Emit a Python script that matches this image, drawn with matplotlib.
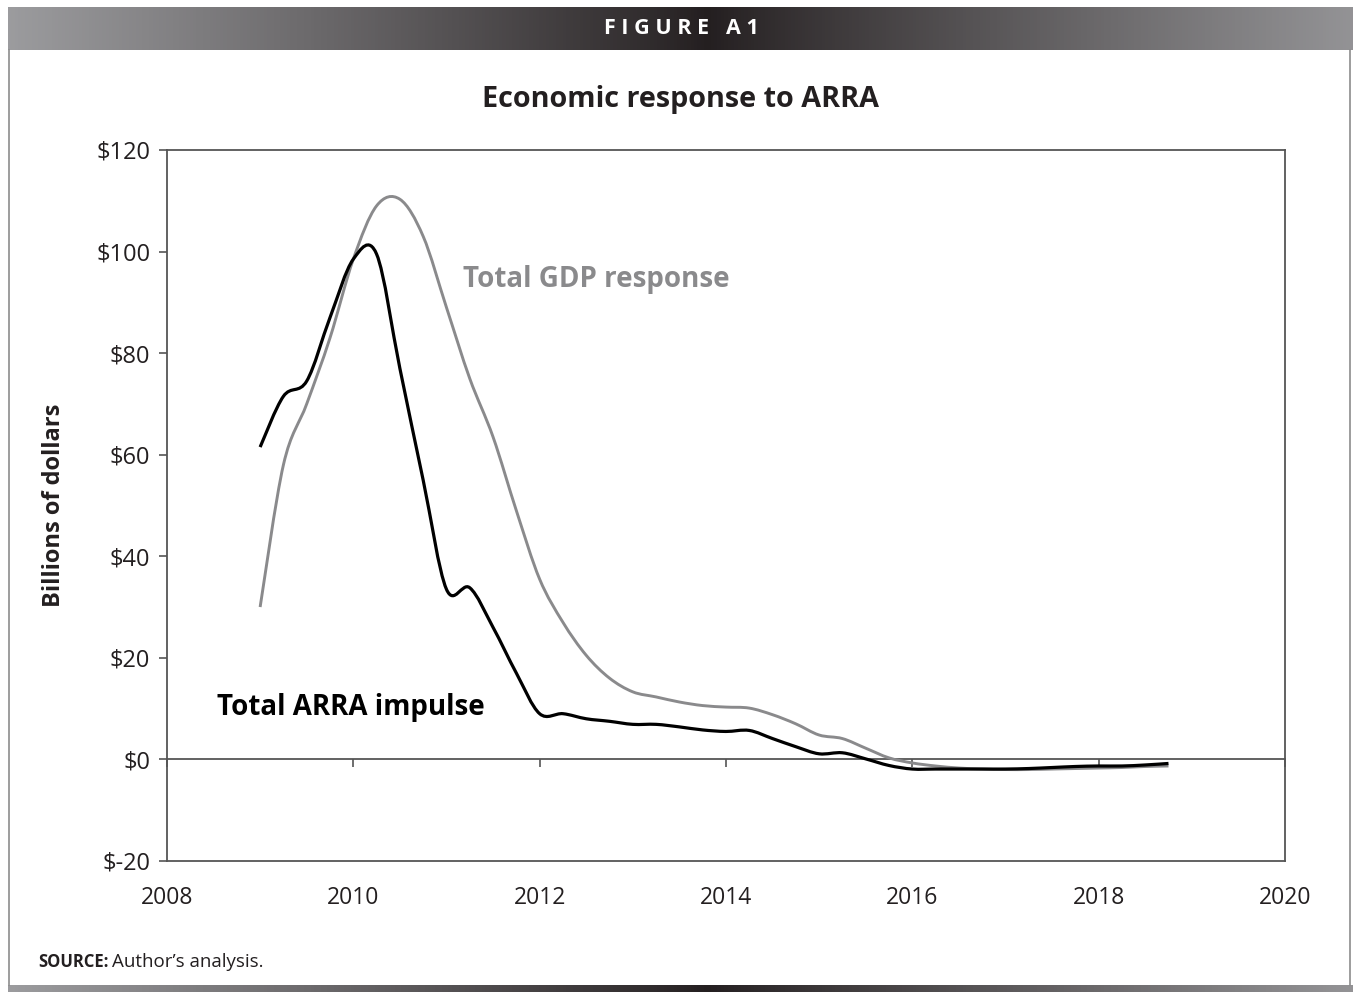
import numpy as np
import matplotlib.pyplot as plt
from matplotlib.path import Path
from matplotlib.patches import PathPatch
from matplotlib.ticker import FuncFormatter

plt.rcParams['font.family'] = ['Open Sans', 'DejaVu Sans']

## Data (quarterly, billions of dollars) ##
quarters = [2009.00, 2009.25, 2009.50, 2009.75, 2010.00, 2010.25, 2010.50, 2010.75,
            2011.00, 2011.25, 2011.50, 2011.75, 2012.00, 2012.25, 2012.50, 2012.75,
            2013.00, 2013.25, 2013.50, 2013.75, 2014.00, 2014.25, 2014.50, 2014.75,
            2015.00, 2015.25, 2015.50, 2015.75, 2016.00, 2016.25, 2016.50, 2016.75,
            2017.00, 2017.25, 2017.50, 2017.75, 2018.00, 2018.25, 2018.50, 2018.75]
arra_impulse = [61.5, 71.5, 74.5, 87.0, 98.5, 99.5, 77.0, 55.0,
                33.5, 33.8, 26.0, 17.0, 9.0, 9.0, 8.0, 7.5,
                6.9, 6.9, 6.4, 5.8, 5.5, 5.7, 4.1, 2.5,
                1.1, 1.3, 0.1, -1.2, -1.9, -1.9, -1.9, -1.9,
                -1.9, -1.8, -1.6, -1.4, -1.3, -1.3, -1.1, -0.8]
gdp_response = [30.0, 58.0, 70.0, 83.0, 98.5, 109.0, 110.3, 103.0,
                89.0, 75.0, 63.5, 49.0, 35.5, 27.0, 20.5, 16.0,
                13.3, 12.3, 11.3, 10.6, 10.3, 10.1, 8.8, 7.0,
                4.8, 4.1, 2.2, 0.3, -0.7, -1.3, -1.7, -1.9,
                -2.0, -2.0, -1.9, -1.8, -1.7, -1.6, -1.4, -1.3]
x_ticks = [2008, 2010, 2012, 2014, 2016, 2018, 2020]
y_ticks = [-20, 0, 20, 40, 60, 80, 100, 120]


def smooth_path(xs, ys):
    # Excel-style smoothed line: Bezier segments through the data points
    p = np.column_stack([xs, ys]).astype(float)
    verts = [p[0]]
    codes = [Path.MOVETO]
    n = len(p)
    for i in range(n - 1):
        p0 = p[max(i - 1, 0)]
        p1 = p[i]
        p2 = p[i + 1]
        p3 = p[min(i + 2, n - 1)]
        c1 = p1 + (p2 - p0) / 6.0
        c2 = p2 - (p3 - p1) / 6.0
        verts += [c1, c2, p2]
        codes += [Path.CURVE4] * 3
    return Path(verts, codes)


fig = plt.figure(figsize=(13.53, 9.92), dpi=100)

## Frame / header decoration ##
bg = fig.add_axes([0, 0, 1, 1], zorder=-1)
bg.set_xlim(0, 1353)
bg.set_ylim(992, 0)
bg.axis('off')
pos = np.linspace(0, 1, 400)
light = np.array([0.61, 0.61, 0.62])
dark = np.array([0.14, 0.12, 0.125])
w = np.clip(np.abs(pos - 0.52) / 0.52, 0, 1) ** 0.9
grad = light[None, :] * w[:, None] + dark[None, :] * (1 - w[:, None])
bg.imshow(grad[None, :, :], extent=(8, 1353, 50, 7), aspect='auto')
bg.imshow(grad[None, :, :], extent=(8, 1353, 992, 985), aspect='auto')
bg.plot([9, 9], [50, 985], color='#8c8c8c', lw=1.2)
bg.plot([1350, 1350], [50, 985], color='#8c8c8c', lw=1.2)
bg.text(681, 29, 'F I G U R E   A 1', color='white', fontsize=15.5, fontweight='bold',
        ha='center', va='center')
bg.text(681, 100, 'Economic response to ARRA', color='#231f20', fontsize=20.7,
        fontweight='bold', ha='center', va='center')
bg.text(38, 962, 'SOURCE:', color='#231f20', fontsize=12, fontweight='bold',
        ha='left', va='center')
bg.text(112, 962, 'Author\u2019s analysis.', color='#231f20', fontsize=13.5,
        ha='left', va='center')

## Main chart ##
ax = fig.add_axes([0.1234, 0.1321, 0.8263, 0.7167])
ax.add_patch(PathPatch(smooth_path(quarters, gdp_response), facecolor='none',
                       edgecolor='#8a8a8c', lw=2.1, zorder=3))
ax.add_patch(PathPatch(smooth_path(quarters, arra_impulse), facecolor='none',
                       edgecolor='#000000', lw=2.3, zorder=4))
ax.set_xlim(2008, 2020)
ax.set_ylim(-20, 120)
ax.set_xticks(x_ticks)
ax.set_yticks(y_ticks)
ax.yaxis.set_major_formatter(FuncFormatter(lambda v, p: '$%d' % v))
for s in ax.spines.values():
    s.set_color('#555555')
    s.set_linewidth(1.3)
ax.tick_params(axis='x', length=0, labelsize=16.5, pad=18, labelcolor='#231f20')
ax.tick_params(axis='y', direction='out', length=6, width=1.2, color='#555555',
               labelsize=17, pad=6, labelcolor='#231f20')
ax.set_ylabel('Billions of dollars', fontsize=17, fontweight='bold', color='#231f20',
              labelpad=22)

# horizontal axis drawn at zero with ticks hanging below
zero_loc = (0 - (-20)) / 140.0
sec = ax.secondary_xaxis(zero_loc)
sec.set_xticks(x_ticks)
sec.tick_params(axis='x', direction='out', length=6, width=1.2, color='#555555',
                labelbottom=False, labeltop=False)
sec.spines['bottom'].set_color('#555555')
sec.spines['bottom'].set_linewidth(1.3)

ax.text(2011.18, 94.4, 'Total GDP response', color='#8a8a8c', fontsize=20,
        fontweight='bold', ha='left', va='center')
ax.text(2008.54, 10.3, 'Total ARRA impulse', color='#000000', fontsize=20,
        fontweight='bold', ha='left', va='center')

fig.savefig('out.png', dpi=100)
